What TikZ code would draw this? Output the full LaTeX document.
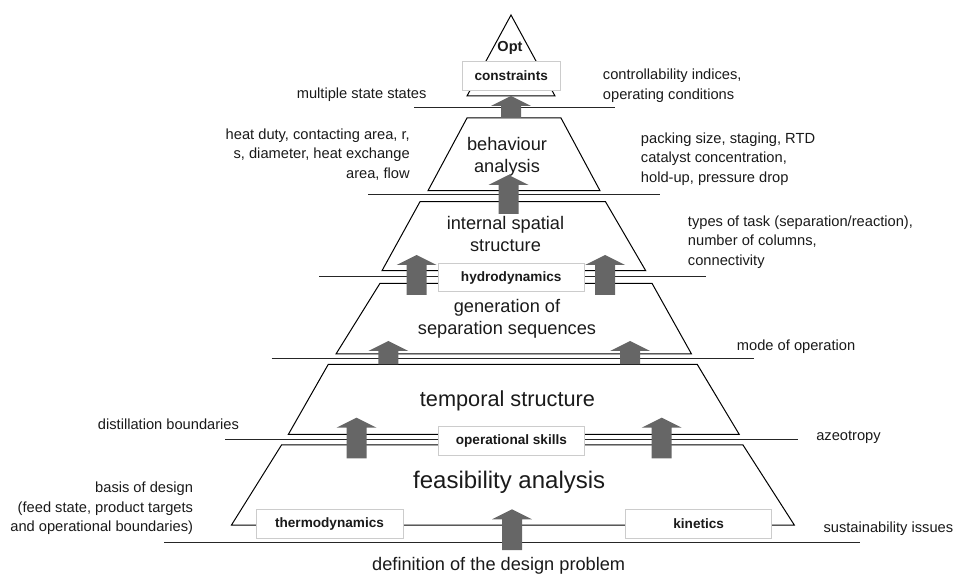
\documentclass[tikz,border=0pt]{standalone}
\usepackage{fontspec}
\setmainfont{Liberation Sans}
\definecolor{arrowgray}{HTML}{666666}
\definecolor{boxgray}{HTML}{CCCCCC}
\definecolor{inkgray}{HTML}{1A1A1A}
% block arrow pointing up: centre x, tip y, foot y
\newcommand\risearrow[3]{%
  \fill[arrowgray] (#1-10,#3) -- (#1-10,#2+10) -- (#1-20,#2+10) -- (#1,#2)
    -- (#1+20,#2+10) -- (#1+10,#2+10) -- (#1+10,#3) -- cycle;}
\tikzset{
  tier/.style={draw=black, line width=0.75pt, line join=miter},
  shelf/.style={draw=black!85, line width=0.8pt},
  note/.style={font=\fontsize{11}{14.6}\selectfont, inner sep=0pt, text=inkgray},
  stage/.style={font=\fontsize{13.65}{16.5}\selectfont, inner sep=0pt, align=center, text=inkgray},
  tag/.style={draw=boxgray, fill=white, line width=0.75pt, inner sep=0pt,
    font=\fontsize{10.2}{12}\selectfont\bfseries, text=inkgray},
}
\begin{document}
\begin{tikzpicture}[x=0.75pt,y=-0.75pt]
\useasboundingbox (0,0) rectangle (954,577);

% tiers of the pyramid
\draw[tier] (511,15) -- (555,96) -- (467,96) -- cycle;
\draw[tier] (467,118) -- (561,118) -- (600,190.7) -- (428,190.7) -- cycle;
\draw[tier] (420,201.7) -- (605.5,201.7) -- (645.7,270.7) -- (382,270.7) -- cycle;
\draw[tier] (380,283.3) -- (652,283.3) -- (691.5,354) -- (336,354) -- cycle;
\draw[tier] (328.3,364.3) -- (697.2,364.3) -- (739.3,434.5) -- (288.3,434.5) -- cycle;
\draw[tier] (281.5,445) -- (743,445) -- (794.3,525) -- (231.5,525) -- cycle;

% separating shelves
\draw[shelf] (414,107.3) -- (615,107.3);
\draw[shelf] (368,194.3) -- (660,194.3);
\draw[shelf] (319,276.5) -- (705.7,276.5);
\draw[shelf] (271.7,358.7) -- (753.7,358.7);
\draw[shelf] (225,439.5) -- (798.3,439.5);
\draw[shelf] (164.3,542.7) -- (860,542.7);

% tier titles
\node[font=\fontsize{10.9}{13}\selectfont\bfseries, inner sep=0pt, text=inkgray] (opt) at (510,48.3) {Opt};
\node[stage] (behav) at (507,156.7) {behaviour\\analysis};
\node[stage] (spatial) at (505.5,234) {internal spatial\\structure};
\node[stage] (sequence) at (507,318.5) {generation of\\separation sequences};
\node[font=\fontsize{16.3}{19}\selectfont, inner sep=0pt, text=inkgray] (temporal) at (507.5,400.5) {temporal structure};
\node[font=\fontsize{18}{21}\selectfont, inner sep=0pt, text=inkgray] (feasible) at (509.2,482) {feasibility analysis};
\node[stage] (problem) at (498.7,566) {definition of the design problem};

% side notes
\node[note, anchor=east] (multi) at (426.7,94.3) {multiple state states};
\node[note, anchor=east, align=right] (duty) at (410,154.5) {heat duty, contacting area, r,\\s, diameter, heat exchange\\area, flow};
\node[note, anchor=east] (distil) at (239.3,424) {distillation boundaries};
\node[note, anchor=east, align=right] (basis) at (193.3,508.3) {basis of design\\(feed state, product targets\\and operational boundaries)};
\node[note, anchor=west, align=left] (control) at (602.7,85.8) {controllability indices,\\operating conditions};
\node[note, anchor=west, align=left] (packing) at (640.7,159.2) {packing size, staging, RTD\\catalyst concentration,\\hold-up, pressure drop};
\node[note, anchor=west, align=left] (tasks) at (687.7,241.8) {types of task (separation/reaction),\\number of columns,\\connectivity};
\node[note, anchor=west] (mode) at (736.7,346.7) {mode of operation};
\node[note, anchor=west] (azeo) at (816,437.3) {azeotropy};
\node[note, anchor=west] (sustain) at (823.3,528.3) {sustainability issues};

% upward block arrows
\risearrow{511}{96}{118}
\risearrow{508.5}{175}{214}
\risearrow{416.7}{255}{295}
\risearrow{605}{255}{295}
\risearrow{388.3}{341}{364.3}
\risearrow{630}{341}{364.3}
\risearrow{356.5}{417.7}{458.3}
\risearrow{661.7}{417.7}{458.3}
\risearrow{512}{509.3}{550}

% labelled boxes
\node[tag, minimum width=73.3pt, minimum height=21.2pt] (constraints) at (511.2,75.9) {constraints};
\node[tag, minimum width=109.3pt, minimum height=21.3pt] (hydro) at (511.2,277.5) {hydrodynamics};
\node[tag, minimum width=109.35pt, minimum height=21.2pt] (skills) at (511.4,440.9) {operational skills};
\node[tag, minimum width=110.25pt, minimum height=21.75pt] (thermo) at (329.5,523.8) {thermodynamics};
\node[tag, minimum width=109.5pt, minimum height=21.75pt] (kinetics) at (698.7,523.8) {kinetics};
\end{tikzpicture}
\end{document}
